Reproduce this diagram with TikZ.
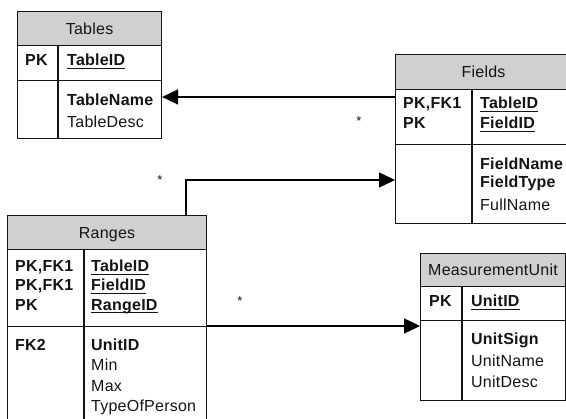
\documentclass[tikz,border=0pt]{standalone}
\usepackage{fontspec}
\setmainfont[LetterSpace=1.5]{Liberation Sans}
\usetikzlibrary{arrows.meta}

\definecolor{hdrgray}{RGB}{208,208,208}
\definecolor{inkgray}{RGB}{20,20,20}

% underlined key column name
\newcommand\pkul[1]{\setbox0=\hbox{#1}\rlap{\rule[-2.9pt]{\wd0}{1.1pt}}\box0}

\begin{document}
\begin{tikzpicture}[x=1pt,y=-1pt,
  every node/.style={font=\fontsize{16}{19}\selectfont, text=inkgray},
  part/.style={draw=inkgray, line width=1.1pt, rectangle, inner sep=0pt, anchor=north west},
  hdr/.style={part, fill=hdrgray, text height=11pt, text depth=0pt},
  col/.style={anchor=base west, inner sep=0pt},
  bcol/.style={col, font=\fontsize{16}{19}\selectfont\bfseries},
  sep/.style={draw=inkgray, line width=1.1pt},
  conn/.style={draw=black, line width=1.5pt, -{Triangle[length=16pt,width=15pt]}},
  mult/.style={anchor=base, inner sep=0pt, font=\fontsize{13}{13}\selectfont}]
\useasboundingbox (0,0) rectangle (566,419);
\clip (0,0) rectangle (566,419);

% ---------- Tables ----------
\node[hdr, minimum width=144pt, minimum height=34pt] (tables-h) at (17,11) {Tables};
\node[part, minimum width=144pt, minimum height=35pt] (tables-k) at (17,45) {};
\node[part, minimum width=144pt, minimum height=58pt] (tables) at (17,80) {};
\draw[sep] ([xshift=41pt]tables-k.north west) -- ([xshift=41pt]tables.south west);
\node[bcol] (tables-pk) at (25,66) {PK};
\node[bcol] (tables-id) at (67,66) {\pkul{TableID}};
\node[bcol] (tables-name) at (67,105.5) {TableName};
\node[col] (tables-desc) at (67,127.5) {TableDesc};

% ---------- Fields ----------
\node[hdr, minimum width=176pt, minimum height=35pt] (fields-h) at (395,54) {Fields};
\node[part, minimum width=176pt, minimum height=55pt] (fields-k) at (395,89) {};
\node[part, minimum width=176pt, minimum height=79pt] (fields) at (395,144) {};
\draw[sep] ([xshift=77pt]fields-k.north west) -- ([xshift=77pt]fields.south west);
\node[bcol] (fields-k1) at (403,109) {PK,FK1};
\node[bcol] (fields-k2) at (403,129) {PK};
\node[bcol] (fields-tid) at (480,109) {\pkul{TableID}};
\node[bcol] (fields-fid) at (480,129) {\pkul{FieldID}};
\node[bcol] (fields-name) at (480,169.5) {FieldName};
\node[bcol] (fields-type) at (480,188) {FieldType};
\node[col] (fields-full) at (480,210.5) {FullName};

% ---------- Ranges ----------
\node[hdr, minimum width=199pt, minimum height=34pt] (ranges-h) at (7,215) {Ranges};
\node[part, minimum width=199pt, minimum height=77pt] (ranges-k) at (7,249) {};
\node[part, minimum width=199pt, minimum height=110pt] (ranges) at (7,326) {};
\draw[sep] ([xshift=77pt]ranges-k.north west) -- ([xshift=77pt]ranges.south west);
\node[bcol] (ranges-k1) at (15,272) {PK,FK1};
\node[bcol] (ranges-k2) at (15,291) {PK,FK1};
\node[bcol] (ranges-k3) at (15,310.5) {PK};
\node[bcol] (ranges-tid) at (91,272) {\pkul{TableID}};
\node[bcol] (ranges-fid) at (91,291) {\pkul{FieldID}};
\node[bcol] (ranges-rid) at (91,310.5) {\pkul{RangeID}};
\node[bcol] (ranges-fk2) at (15,351) {FK2};
\node[bcol] (ranges-uid) at (91,351) {UnitID};
\node[col] (ranges-min) at (91,371) {Min};
\node[col] (ranges-max) at (91,392) {Max};
\node[col] (ranges-person) at (91,412) {TypeOfPerson};

% ---------- MeasurementUnit ----------
\node[hdr, minimum width=145pt, minimum height=33pt] (unit-h) at (420,253) {MeasurementUnit};
\node[part, minimum width=145pt, minimum height=34pt] (unit-k) at (420,286) {};
\node[part, minimum width=145pt, minimum height=80pt] (unit) at (420,320) {};
\draw[sep] ([xshift=42pt]unit-k.north west) -- ([xshift=42pt]unit.south west);
\node[bcol] (unit-pk) at (429,307) {PK};
\node[bcol] (unit-id) at (471,307) {\pkul{UnitID}};
\node[bcol] (unit-sign) at (471,345) {UnitSign};
\node[col] (unit-name) at (471,367) {UnitName};
\node[col] (unit-desc) at (471,388) {UnitDesc};

% ---------- relationships ----------
\coordinate (lvl-ft) at (0,97);
\coordinate (lvl-rf) at (186,180);
\coordinate (lvl-ru) at (0,326);
\draw[conn] (fields.west |- lvl-ft) -- (tables.east |- lvl-ft);
\draw[conn] (ranges-h.north -| lvl-rf) |- (fields.west |- lvl-rf);
\draw[conn] (ranges.east |- lvl-ru) -- (unit.west |- lvl-ru);

\node[mult] (m-rf) at (160,184.5) {*};
\node[mult] (m-ft) at (359,125.5) {*};
\node[mult] (m-ru) at (240,305.5) {*};
\end{tikzpicture}
\end{document}
